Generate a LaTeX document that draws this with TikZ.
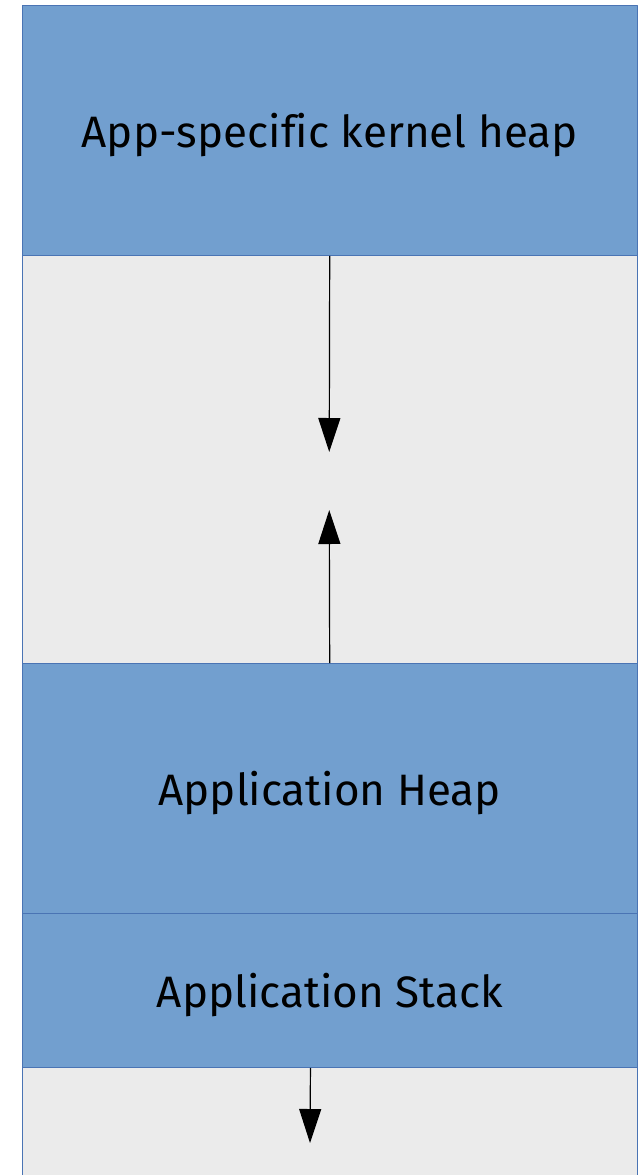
\documentclass[tikz,border=0pt]{standalone}
\usepackage{fontspec}
\setmainfont{Fira Sans}[Ligatures=NoCommon]
\usetikzlibrary{arrows.meta}
\definecolor{blockblue}{HTML}{729FCF}
\definecolor{blockedge}{HTML}{4A74B4}
\definecolor{freegray}{HTML}{EBEBEB}
\begin{document}
\begin{tikzpicture}[x=1pt, y=-1pt, line join=round, >={Triangle[length=34pt, width=22pt]}, font=\fontsize{44}{52}\selectfont,
	block/.style={draw=blockedge, line width=0.9pt, fill=blockblue, minimum width=614.5pt, anchor=north west, inner sep=0pt, text depth=0pt},
	free/.style={block, fill=freegray}]

	\clip (0,0) rectangle (640,1175);

	% Free regions (gray)
	\node[free, minimum height=408pt] (gapA) at (22,255) {};
	\node[free, minimum height=150pt] (gapB) at (22,1067) {};

	% Memory blocks
	\node[block, minimum height=250pt] (kheap) at (22,5) {App-specific kernel heap};
	\node[block, minimum height=250pt] (heap) at (22,663) {Application Heap};
	\node[block, minimum height=154pt] (stack) at (22,913) {Application Stack};

	% Growth directions
	\coordinate (tipA) at (329.25,452);
	\coordinate (tipB) at (329.25,510);
	\coordinate (tipC) at (310,1143);
	\draw[->, line width=1.2pt] (kheap.south) -- (tipA);
	\draw[->, line width=1.2pt] (heap.north) -- (tipB);
	\draw[->, line width=1.2pt] ([xshift=-19.25pt]stack.south) -- (tipC);

\end{tikzpicture}
\end{document}
